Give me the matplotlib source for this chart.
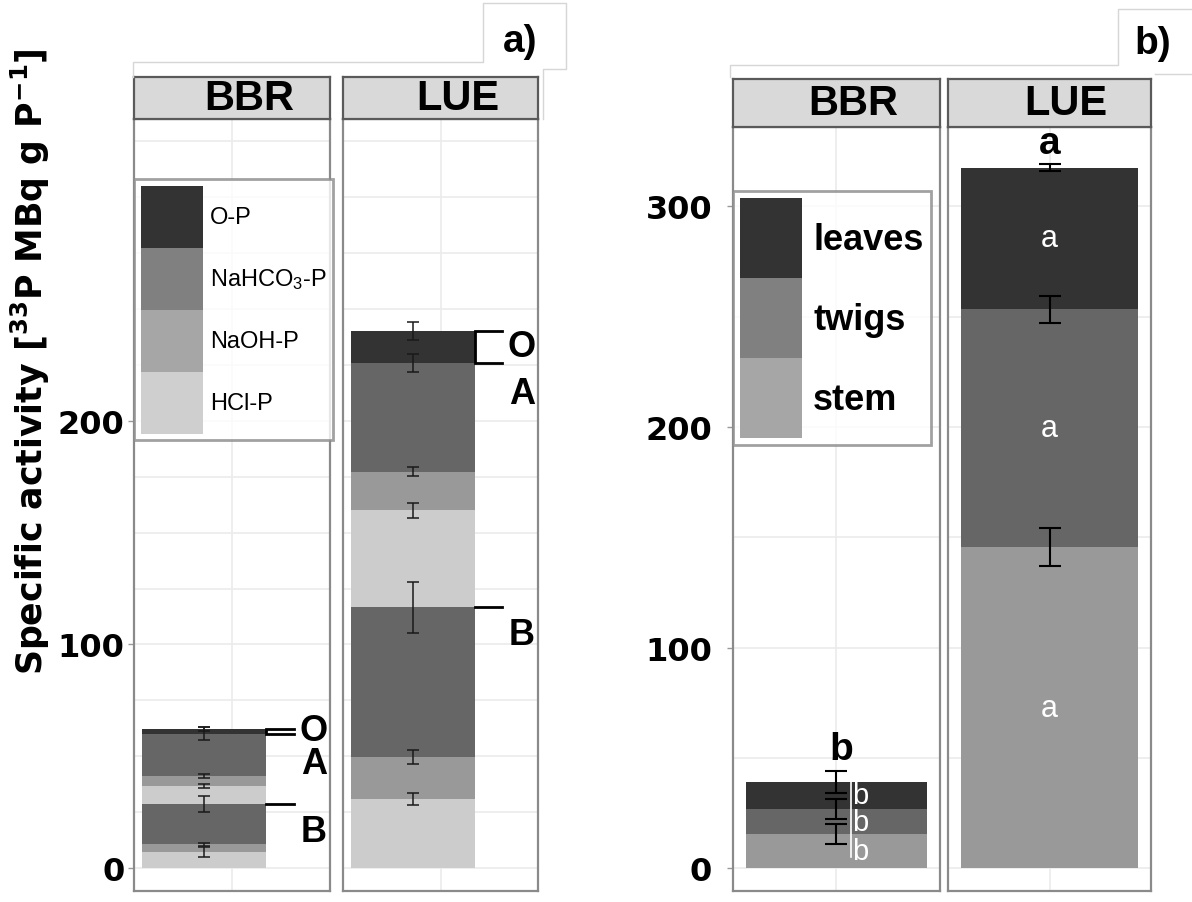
import matplotlib
matplotlib.use("Agg")
import matplotlib.pyplot as plt
import numpy as np
from matplotlib.patches import Patch
from matplotlib.ticker import MultipleLocator, FixedLocator
from matplotlib import font_manager

plt.rcParams['font.family'] = ['Liberation Sans', 'DejaVu Sans']
plt.rcParams['mathtext.default'] = 'regular'

W, H = 1192, 903

# a) 33P in soil P fractions, stacked bottom to top (B, A, O horizons)
soil_fraction = ['HCl-P', 'NaOH-P', 'NaHCO3-P', 'HCl-P', 'NaOH-P', 'NaHCO3-P', 'O-P']
soil_horizon = ['B', 'B', 'B', 'A', 'A', 'A', 'O']
bbr_soil = [7.3, 3.3, 17.9, 8.3, 4.2, 19.1, 2.1]
bbr_soil_err = [2.2, 0.6, 3.6, 0.9, 0.9, 3.0, 1.0]
lue_soil = [30.9, 18.8, 66.9, 43.3, 17.4, 48.5, 14.2]
lue_soil_err = [2.7, 3.0, 11.4, 3.5, 2.0, 4.0, 4.0]

# b) 33P in plant parts, stacked bottom to top
plant_parts = ['stem', 'twigs', 'leaves']
bbr_plant = [15.4, 11.3, 12.4]
bbr_plant_err = [4.6, 4.5, 5.0]
lue_plant = [145.5, 107.8, 64.3]
lue_plant_err = [8.5, 6.0, 1.7]
bbr_letters = ['b', 'b', 'b']
lue_letters = ['a', 'a', 'a']
total_letter = {'BBR': 'b', 'LUE': 'a'}

sites = ['BBR', 'LUE']
soil = {'BBR': (bbr_soil, bbr_soil_err), 'LUE': (lue_soil, lue_soil_err)}
plant = {'BBR': (bbr_plant, bbr_plant_err, bbr_letters),
         'LUE': (lue_plant, lue_plant_err, lue_letters)}

soil_colors = {'HCl-P': '#cccccc', 'NaOH-P': '#999999', 'NaHCO3-P': '#666666', 'O-P': '#333333'}
soil_key_colors = {'O-P': '#333333', 'NaHCO3-P': '#808080', 'NaOH-P': '#a6a6a6', 'HCl-P': '#cfcfcf'}
soil_key_labels = {'O-P': 'O-P', 'NaHCO3-P': 'NaHCO$_3$-P', 'NaOH-P': 'NaOH-P', 'HCl-P': 'HCl-P'}
plant_colors = {'stem': '#999999', 'twigs': '#666666', 'leaves': '#333333'}
plant_key_colors = {'leaves': '#333333', 'twigs': '#808080', 'stem': '#a6a6a6'}

GRID = '#ebebeb'
FRAME = '#8a8a8a'
TICKFONT = dict(family='DejaVu Sans', weight='bold', size=23)

fig = plt.figure(figsize=(W / 100, H / 100), dpi=100)


def px_axes(x0, y0, x1, y1, **kw):
  return fig.add_axes([x0 / W, 1 - y1 / H, (x1 - x0) / W, (y1 - y0) / H], **kw)


def key_size(fs_pt, h_px, w_px):
  # legend handle height/length (in font units) giving an h_px x w_px swatch
  fs_px = fs_pt * 100 / 72
  return (h_px / fs_px - 0.245) / 0.65, w_px / fs_px


def style_panel(ax, ylim, ticks, minor, first):
  ax.set_xlim(0.4, 1.6)
  ax.set_ylim(*ylim)
  ax.set_xticks([])
  ax.yaxis.set_major_locator(FixedLocator(ticks))
  ax.yaxis.set_minor_locator(MultipleLocator(minor))
  ax.grid(True, which='both', axis='y', color=GRID, lw=1.2, zorder=0)
  ax.axvline(1.0, color=GRID, lw=1.2, zorder=0)
  ax.set_axisbelow(True)
  for s in ax.spines.values():
    s.set_color(FRAME)
    s.set_linewidth(1.6)
  ax.tick_params(axis='y', which='minor', length=0)
  if first:
    ax.tick_params(axis='y', which='major', length=4, width=1, color='#999999', pad=3)
    for t in ax.get_yticklabels():
      t.set_fontproperties(font_manager.FontProperties(**TICKFONT))
  else:
    ax.tick_params(axis='y', which='major', length=0, labelleft=False)


def strip(x0, y0, x1, y1, label, tx):
  sa = px_axes(x0, y0, x1, y1)
  sa.set_facecolor('#d9d9d9')
  sa.set_xticks([])
  sa.set_yticks([])
  for s in sa.spines.values():
    s.set_color('#5a5a5a')
    s.set_linewidth(1.6)
  sa.text(tx, 0.5, label, transform=sa.transAxes, ha='center', va='center',
          fontsize=30, weight='bold')


# ---- a) soil fractions ----
soil_boxes = {'BBR': (134, 120, 330, 892), 'LUE': (343, 120, 538, 892)}
BAR_X, BAR_W = 0.83, 0.76
for i, site in enumerate(sites):
  x0, y0, x1, y1 = soil_boxes[site]
  ax = px_axes(x0, y0, x1, y1)
  vals, errs = soil[site]
  style_panel(ax, (-10.3, 335), [0, 100, 200], 25, i == 0)
  tops = np.cumsum(vals)
  bottoms = tops - np.array(vals)
  for v, b, frac in zip(vals, bottoms, soil_fraction):
    ax.bar(BAR_X, v, BAR_W, bottom=b, color=soil_colors[frac], lw=0, zorder=2)
  ax.errorbar([BAR_X] * len(tops), tops, yerr=errs, fmt='none', ecolor='#1a1a1a',
              elinewidth=1.1, capsize=4.5, capthick=1.1, zorder=3)
  # horizon brackets on the right side of the stack
  top_b = tops[soil_horizon.index('A') - 1]
  top_a = tops[soil_horizon.index('O') - 1]
  top_o = tops[-1]
  edge = BAR_X + BAR_W / 2
  end = edge + 0.17
  ax.plot([end, edge, edge, end], [top_o, top_o, top_a, top_a], color='black', lw=2,
          clip_on=False, zorder=4, solid_joinstyle='miter')
  ax.plot([edge, end], [top_b, top_b], color='black', lw=2, clip_on=False, zorder=4)
  lx = edge + 0.29
  lab = dict(ha='center', va='center', fontsize=26, weight='bold', clip_on=False, zorder=5)
  ax.text(lx, (top_a + top_o) / 2 + 0.5, 'O', **lab)
  ax.text(lx, top_a - 13.5, 'A', **lab)
  ax.text(lx, top_b - 12, 'B', **lab)
  strip(x0, 78, x1, 120, site, 0.59)

hh, hl = key_size(17, 62, 62)
soil_handles = [Patch(facecolor=soil_key_colors[k], edgecolor='none', label=soil_key_labels[k])
                for k in ['O-P', 'NaHCO3-P', 'NaOH-P', 'HCl-P']]
leg = fig.legend(handles=soil_handles, loc='upper left', bbox_to_anchor=(134 / W, 1 - 180 / H),
                 borderaxespad=0, frameon=True, fancybox=False, edgecolor=FRAME,
                 prop=font_manager.FontProperties(family='Liberation Sans', size=17),
                 handlelength=hl, handleheight=hh, labelspacing=0, handletextpad=0.3,
                 borderpad=0.28)
leg.get_frame().set_linewidth(2)

# ---- b) plant parts ----
plant_boxes = {'BBR': (733, 128, 940, 892), 'LUE': (948, 128, 1151, 892)}
PBAR_X, PBAR_W = 1.0, 1.05
for i, site in enumerate(sites):
  x0, y0, x1, y1 = plant_boxes[site]
  ax = px_axes(x0, y0, x1, y1)
  vals, errs, letters = plant[site]
  style_panel(ax, (-10.4, 336), [0, 100, 200, 300], 50, i == 0)
  if i == 0:
    ax.tick_params(axis='y', which='major', pad=11)
  tops = np.cumsum(vals)
  bottoms = tops - np.array(vals)
  for v, b, part in zip(vals, bottoms, plant_parts):
    ax.bar(PBAR_X, v, PBAR_W, bottom=b, color=plant_colors[part], lw=0, zorder=2)
  ax.errorbar([PBAR_X] * len(tops), tops, yerr=errs, fmt='none', ecolor='black',
              elinewidth=1.5, capsize=8, capthick=1.5, zorder=3)
  mids = bottoms + np.array(vals) / 2
  if site == 'BBR':
    ax.plot([1.085, 1.085], [bottoms[0] + 5, tops[-1]], color='white', lw=1.2, zorder=4)
    for m, s in zip(mids, letters):
      ax.text(1.09, m, s, ha='left', va='center', color='white', fontsize=21, zorder=5)
  else:
    for m, s in zip(mids, letters):
      ax.text(PBAR_X, m, s, ha='center', va='center', color='white', fontsize=22, zorder=5)
  ax.text(PBAR_X + (0.03 if site == 'BBR' else 0), tops[-1] + errs[-1] + 1.5,
          total_letter[site], ha='center', va='bottom', fontsize=28, weight='bold', zorder=5)
  strip(x0, 80, x1, 128, site, 0.58)

hh2, hl2 = key_size(26, 80, 62)
plant_handles = [Patch(facecolor=plant_key_colors[k], edgecolor='none', label=k)
                 for k in ['leaves', 'twigs', 'stem']]
leg2 = fig.legend(handles=plant_handles, loc='upper left', bbox_to_anchor=(733 / W, 1 - 192 / H),
                  borderaxespad=0, frameon=True, fancybox=False, edgecolor=FRAME,
                  prop=font_manager.FontProperties(family='Liberation Sans', weight='bold', size=26),
                  handlelength=hl2, handleheight=hh2, labelspacing=0, handletextpad=0.3,
                  borderpad=0.2)
leg2.get_frame().set_linewidth(2)

# shared y label and panel tags
fig.text(30 / W, 1 - 362 / H, 'Specific activity [$^{33}$P MBq g P$^{-1}$]', rotation=90,
         ha='center', va='center', fontsize=25, weight='bold', family='DejaVu Sans')
fig.text(520 / W, 1 - 42 / H, 'a)', ha='center', va='center', fontsize=28, weight='bold')
fig.text(1153 / W, 1 - 44 / H, 'b)', ha='center', va='center', fontsize=28, weight='bold')

# faint outlines of the tag boxes
edge_kw = dict(color='#d6d6d6', lw=1, transform=fig.transFigure)
def fig_line(xs, ys):
  fig.add_artist(plt.Line2D([x / W for x in xs], [1 - y / H for y in ys], **edge_kw))
fig_line([133, 133, 483, 483, 566, 566, 543, 543], [78, 63, 63, 4, 4, 70, 70, 120])
fig_line([730, 730, 1118, 1118, 1192], [78, 66, 66, 10, 10])
fig_line([1155, 1192], [75, 75])

fig.savefig('out.png', dpi=100)
